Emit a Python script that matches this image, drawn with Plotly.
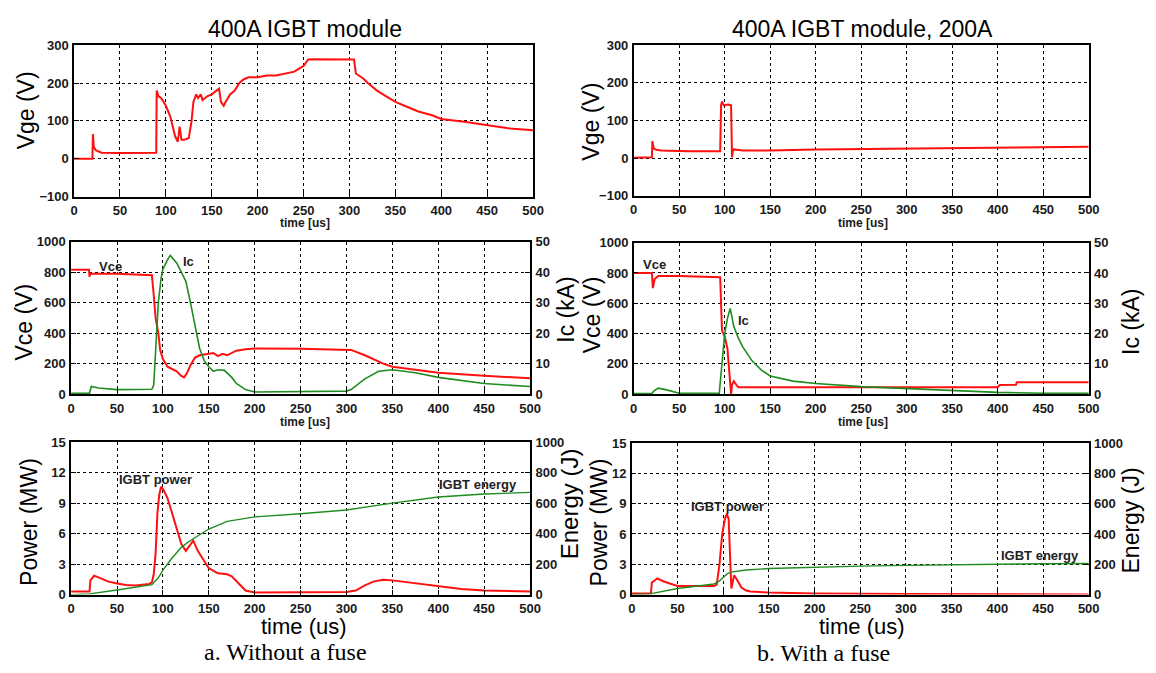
import plotly.graph_objects as go

W, H = 1156, 673

# ---------------- data (time in us) ----------------
vge_a = [(0, 0), (20, 0), (20.5, 65), (21.5, 30), (24, 22), (30, 16), (50, 15), (70, 16), (89.5, 16),
         (90, 180), (92, 165), (95, 160), (100, 140), (105, 110), (110, 60), (113, 45), (115, 85), (117, 50),
         (120, 50), (125, 55), (128, 100), (130, 150), (133, 170), (135, 160), (138, 170), (140, 155),
         (145, 165), (150, 170), (155, 180), (158, 185), (160, 150), (163, 140), (165, 150), (170, 170),
         (175, 180), (180, 200), (185, 210), (190, 215), (200, 215), (210, 220), (220, 220), (230, 225),
         (240, 230), (250, 245), (255, 262), (260, 263), (280, 263), (305, 262), (307, 225), (310, 220),
         (315, 212), (320, 200), (330, 180), (340, 165), (350, 150), (360, 140), (375, 125), (390, 115),
         (400, 105), (425, 98), (450, 88), (475, 80), (500, 75)]

vge_b = [(0, 1), (20, 2), (20.5, 45), (22, 25), (25, 22), (30, 20), (60, 18), (80, 17), (95, 18),
         (96, 140), (97, 150), (99, 140), (104, 142), (107, 140), (107.5, 40), (108, 2), (109, 20),
         (110, 23), (120, 20), (150, 20), (200, 23), (250, 24), (300, 25), (350, 26), (400, 28),
         (450, 30), (500, 30)]

vce_a = [(0, 815), (19.5, 815), (20, 770), (21, 790), (50, 790), (88, 780), (90, 650), (92, 500),
         (95, 400), (97, 290), (100, 230), (105, 180), (110, 165), (115, 150), (120, 120), (123, 110),
         (126, 135), (130, 190), (135, 240), (140, 255), (150, 265), (155, 270), (160, 250), (165, 265),
         (170, 255), (180, 285), (190, 295), (200, 300), (250, 298), (300, 295), (305, 290), (320, 255),
         (340, 200), (350, 180), (375, 160), (400, 140), (450, 120), (500, 105)]

ic_a = [(0, 0.3), (20, 0.3), (22, 2.5), (30, 2), (50, 1.5), (88, 1.6), (90, 3), (92, 15), (95, 30),
        (98, 38), (100, 41), (105, 44), (108, 45.5), (115, 43), (120, 40), (125, 37), (130, 30),
        (135, 22), (140, 15), (145, 11), (150, 9), (155, 7.5), (160, 8), (167, 7.8), (175, 5.5),
        (180, 3.5), (190, 1.5), (200, 0.7), (250, 0.8), (300, 1), (305, 1.5), (320, 5), (335, 7.5),
        (350, 8), (375, 7), (400, 5.5), (450, 3.5), (500, 2.5)]

vce_b = [(0, 800), (20, 800), (21, 700), (23, 760), (27, 780), (50, 780), (95, 772), (96, 480),
         (97, 420), (100, 380), (103, 300), (105, 150), (107, 0), (108, 60), (110, 85), (113, 60),
         (115, 45), (200, 45), (300, 45), (400, 45), (402, 60), (420, 62), (421, 78), (500, 78)]

ic_b = [(0, 0.2), (20, 0.2), (22, 1), (27, 2), (35, 1.5), (45, 0.8), (50, 0.3), (94, 0.3), (97, 10),
        (100, 20), (103, 25), (106, 28.3), (110, 22.3), (115, 18.5), (120, 15.5), (130, 11), (140, 8),
        (150, 6), (175, 4.3), (200, 3.5), (250, 2.5), (300, 1.8), (350, 1.2), (400, 0.6), (450, 0.3),
        (500, 0.3)]

power_a = [(0, 0.3), (20, 0.3), (21, 1.4), (25, 1.85), (30, 1.7), (40, 1.3), (50, 1.1), (60, 0.95),
           (70, 0.9), (85, 1.05), (88, 1.2), (90, 2), (92, 4), (94, 8), (96, 9.8), (98, 10.6),
           (100, 10.4), (105, 9.5), (110, 8), (115, 6.5), (120, 5), (125, 4.3), (130, 5), (133, 5.3),
           (138, 4.3), (145, 3.3), (150, 2.6), (160, 2.1), (170, 2), (175, 1.8), (180, 1.3), (190, 0.4),
           (200, 0.2), (250, 0.25), (300, 0.25), (310, 0.4), (320, 0.9), (330, 1.3), (340, 1.45),
           (350, 1.4), (375, 1.1), (400, 0.8), (425, 0.55), (450, 0.4), (500, 0.3)]

energy_a = [(0, 0), (20, 5), (50, 30), (88, 65), (95, 110), (100, 160), (110, 240), (120, 310),
            (130, 355), (140, 395), (150, 430), (170, 480), (200, 510), (250, 530), (300, 555),
            (350, 600), (400, 640), (450, 660), (500, 670)]

power_b = [(0, 0.1), (21, 0.1), (22, 1.2), (28, 1.6), (35, 1.3), (45, 1), (50, 0.85), (90, 0.85),
           (93, 1), (96, 3), (99, 6), (102, 7.5), (104, 8), (106, 7.5), (107.5, 3), (109, 0.6),
           (112, 1.9), (115, 1.5), (120, 0.7), (125, 0.4), (130, 0.3), (150, 0.2), (200, 0.12),
           (300, 0.05), (500, 0.02)]

energy_b = [(0, 0), (20, 5), (50, 40), (90, 70), (95, 85), (100, 110), (105, 140), (110, 150),
            (125, 162), (150, 172), (200, 182), (250, 188), (300, 193), (350, 198), (400, 202),
            (450, 204), (500, 205)]

x_ticks = [0, 50, 100, 150, 200, 250, 300, 350, 400, 450, 500]
panel_titles = ["400A IGBT module", "400A IGBT module, 200A"]
captions = ["a. Without a fuse", "b. With a fuse"]

RED = "#ff1010"
GREEN = "#1f8c1f"


def px(x):
    return x / W


def py(y):
    return 1 - y / H


def xy(pairs):
    return [p[0] for p in pairs], [p[1] for p in pairs]


fig = go.Figure()


def add(pairs, xa, ya, color, width):
    xs, ys = xy(pairs)
    fig.add_trace(go.Scatter(x=xs, y=ys, xaxis=xa, yaxis=ya, mode="lines",
                             line=dict(color=color, width=width),
                             showlegend=False, hoverinfo="skip"))


add(vge_a, "x", "y", RED, 2)
add(vge_b, "x2", "y2", RED, 2)
add(ic_a, "x3", "y4", GREEN, 1.6)
add(vce_a, "x3", "y3", RED, 2)
add(ic_b, "x4", "y6", GREEN, 1.6)
add(vce_b, "x4", "y5", RED, 2)
add(energy_a, "x5", "y8", GREEN, 1.4)
add(power_a, "x5", "y7", RED, 2)
add(energy_b, "x6", "y10", GREEN, 1.4)
add(power_b, "x6", "y9", RED, 2)

TICKFONT = dict(family="Liberation Sans, Arial", size=13, color="#1a1a1a", weight="bold")

frames = {
    # name: (x0, x1, ytop, ybottom)
    1: (71, 536, 39, 194),
    2: (638, 1099, 39, 193),
    3: (68, 533, 240, 396),
    4: (638, 1099, 241, 396),
    5: (68, 533, 445, 601),
    6: (636, 1099, 446, 601),
}
# x axis index -> (left y axis index, right y axis index or None, yrange, ydtick, ry range, ry dtick)
ycfg = {
    1: (1, None, [-100, 300], 100, None, None),
    2: (2, None, [-100, 300], 100, None, None),
    3: (3, 4, [0, 1000], 200, [0, 50], 10),
    4: (5, 6, [0, 1000], 200, [0, 50], 10),
    5: (7, 8, [0, 15], 3, [0, 1000], 200),
    6: (9, 10, [0, 15], 3, [0, 1000], 200),
}

layout = {}
for i, (x0, x1, yt, yb) in frames.items():
    ly, ry, yr, ydt, rr, rdt = ycfg[i]
    xname = "xaxis" if i == 1 else f"xaxis{i}"
    lyname = "yaxis" if ly == 1 else f"yaxis{ly}"
    lyref = "y" if ly == 1 else f"y{ly}"
    xref = "x" if i == 1 else f"x{i}"
    layout[xname] = dict(domain=[px(x0), px(x1)], anchor=lyref, range=[0, 500],
                         tickvals=x_ticks, ticktext=[str(v) for v in x_ticks],
                         showgrid=True, gridcolor="black", griddash="dot", gridwidth=1.2,
                         showline=True, linecolor="black", linewidth=1.5, mirror=True,
                         ticks="inside", ticklen=5, tickcolor="black", tickwidth=1.2,
                         zeroline=False, tickfont=TICKFONT, ticklabelstandoff=1)
    layout[lyname] = dict(domain=[py(yb), py(yt)], anchor=xref, range=yr, dtick=ydt, tick0=yr[0],
                          showgrid=True, gridcolor="black", griddash="dot", gridwidth=1.2,
                          showline=True, linecolor="black", linewidth=1.5, mirror=True,
                          ticks="inside", ticklen=5, tickcolor="black", tickwidth=1.2,
                          zeroline=False, tickfont=TICKFONT, ticklabelstandoff=1)
    if ry is not None:
        layout[f"yaxis{ry}"] = dict(overlaying=lyref, anchor=xref, side="right", range=rr, dtick=rdt,
                                    tick0=0, showgrid=False, showline=True, linecolor="black",
                                    linewidth=1.5, ticks="inside", ticklen=5, tickcolor="black",
                                    tickwidth=1.2, zeroline=False, tickfont=TICKFONT,
                                    ticklabelstandoff=1)

annotations = []


def note(text, x, y, size, family="Liberation Sans, Arial", angle=0, weight="normal", xref="paper",
         yref="paper", color="black"):
    if xref == "paper":
        x = px(x)
    if yref == "paper":
        y = py(y)
    annotations.append(dict(text=text, x=x, y=y, xref=xref, yref=yref, showarrow=False,
                            textangle=angle, xanchor="center", yanchor="middle", borderpad=0,
                            font=dict(family=family, size=size, color=color, weight=weight)))


# panel titles
note(panel_titles[0], 305, 22, 23)
note(panel_titles[1], 870, 22, 23)

# small "time [us]" labels
for xc, yc in [(305, 221), (870, 221), (305, 424), (870, 424)]:
    note("time [us]", xc, yc, 12, weight="bold", color="#1a1a1a")

# axis titles
note("Vge (V)", 22, 106, 23, angle=-90)
note("Vge (V)", 595, 117, 23, angle=-90)
note("Vce (V)", 20, 322, 23, angle=-90)
note("Ic (kA)", 569, 310, 23, angle=-90)
note("Vce (V)", 596, 315, 23, angle=-90)
note("Ic (kA)", 1142, 322, 23, angle=-90)
note("Power (MW)", 26, 527, 23, angle=-90)
note("Energy (J)", 573, 508, 24, angle=-90)
note("Power (MW)", 603, 527, 23, angle=-90)
note("Energy (J)", 1142, 525, 23, angle=-90)

# bottom labels
note("time (us)", 304, 634, 22)
note("time (us)", 869, 634, 22)
note(captions[0], 285, 660, 24, family="Liberation Serif, Times New Roman")
note(captions[1], 830, 661, 24, family="Liberation Serif, Times New Roman")

# trace labels (data coordinates)
note("Vce", 43, 835, 13, weight="bold", xref="x3", yref="y3", color="#222")
note("Ic", 128, 870, 13, weight="bold", xref="x3", yref="y3", color="#222")
note("Vce", 23, 858, 13, weight="bold", xref="x4", yref="y5", color="#222")
note("Ic", 121, 489, 13, weight="bold", xref="x4", yref="y5", color="#222")
note("IGBT power", 92, 11.3, 13, weight="bold", xref="x5", yref="y7", color="#222")
note("IGBT energy", 443, 10.85, 13, weight="bold", xref="x5", yref="y7", color="#222")
note("IGBT power", 105, 8.7, 13, weight="bold", xref="x6", yref="y9", color="#222")
note("IGBT energy", 447, 3.9, 13, weight="bold", xref="x6", yref="y9", color="#222")

fig.update_layout(width=W, height=H, margin=dict(l=0, r=0, t=0, b=0),
                  paper_bgcolor="white", plot_bgcolor="white", showlegend=False,
                  annotations=annotations, font=dict(family="Liberation Sans, Arial"), **layout)

fig.write_html("out.html")
